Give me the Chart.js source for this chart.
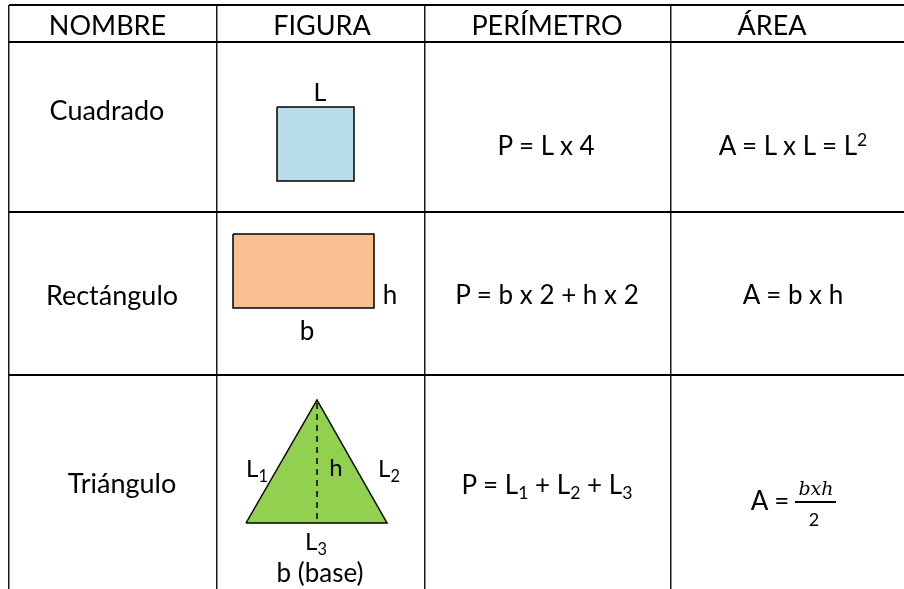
<!DOCTYPE html>
<html lang="es">
<head>
<meta charset="utf-8">
<title>Figuras: perímetro y área</title>
<script src="https://cdn.jsdelivr.net/npm/chart.js@4.4.1/dist/chart.umd.min.js"></script>
<style>
  html, body { margin: 0; padding: 0; background: #fff; }
  #wrap { position: relative; width: 904px; height: 589px; overflow: hidden; font-family: Lato, 'Open Sans', sans-serif; color: #000; }
  #chart { position: absolute; left: 0; top: 0; }
  .lbl { position: absolute; transform: translate(-50%, -50%); line-height: 1; white-space: nowrap; }
  .sub { position: relative; top: 0.28em; font-size: 0.68em; }
  .sup { position: relative; top: -0.5em; font-size: 0.68em; }
  .math { font-family: 'DejaVu Serif', 'Liberation Serif', serif; font-style: italic; }
</style>
</head>
<body>
<div id="wrap">
  <canvas id="chart" width="904" height="589"></canvas>
</div>
<script>
// texts of the table
var headers = ['NOMBRE', 'FIGURA', 'PERÍMETRO', 'ÁREA'];
var names = ['Cuadrado', 'Rectángulo', 'Triángulo'];
var perimeters = ['P = L x 4', 'P = b x 2 + h x 2', 'P = L<span class="sub">1</span> + L<span class="sub">2</span> + L<span class="sub">3</span>'];
var areas = ['A = L x L = L<span class="sup">2</span>', 'A = b x h', 'A ='];
var triangleFraction = ['bxh', '2'];
var figureLabels = ['L', 'h', 'b', 'L<span class="sub">1</span>', 'h', 'L<span class="sub">2</span>', 'L<span class="sub">3</span>', 'b (base)'];

// table borders (grid ticks)
var colEdges = [9, 217, 425, 671];
var rowEdges = [5, 42, 212, 375];

// figures, in table units
var squareX = [277, 354, 354, 277, 277];
var squareY = [107, 107, 181, 181, 107];
var rectX = [233, 374, 374, 233, 233];
var rectY = [234, 234, 308, 308, 234];
var triX = [246, 317, 387, 246];
var triY = [523, 400, 523, 523];
var heightX = [317, 317];
var heightY = [403, 523];
var fracBarX = [795, 836];
var fracBarY = [502, 502];

function pts(xs, ys) {
  return xs.map(function(x, i) { return { x: x, y: ys[i] }; });
}

function shape(xs, ys, color) {
  return {
    data: pts(xs, ys), showLine: true, pointRadius: 0, tension: 0,
    borderColor: '#000', borderWidth: 1.5, backgroundColor: color, fill: 'shape', order: 1
  };
}

new Chart(document.getElementById('chart').getContext('2d'), {
  type: 'scatter',
  data: {
    datasets: [
      { data: pts(heightX, heightY), showLine: true, pointRadius: 0, borderColor: '#000', borderWidth: 1.5, borderDash: [6, 5], fill: false, order: 0 },
      { data: pts(fracBarX, fracBarY), showLine: true, pointRadius: 0, borderColor: '#000', borderWidth: 2, fill: false, order: 0 },
      shape(squareX, squareY, '#b7dde8'),
      shape(rectX, rectY, '#f8c090'),
      shape(triX, triY, '#92d050'),
    ]
  },
  options: {
    responsive: false,
    animation: false,
    devicePixelRatio: 1,
    events: [],
    layout: { padding: { left: 9, top: 5, right: 0, bottom: 0 } },
    plugins: { legend: { display: false }, tooltip: { enabled: false } },
    scales: {
      x: {
        type: 'linear', min: 9, max: 904,
        ticks: { display: false }, border: { display: false },
        grid: { color: '#1a1a1a', lineWidth: 1.5, drawTicks: false },
        afterBuildTicks: function(s) { s.ticks = colEdges.map(function(v) { return { value: v }; }); },
        afterFit: function(s) { s.height = 0; }
      },
      y: {
        type: 'linear', min: 5, max: 589, reverse: true,
        ticks: { display: false }, border: { display: false },
        grid: { color: '#000', lineWidth: 2, drawTicks: false },
        afterBuildTicks: function(s) { s.ticks = rowEdges.map(function(v) { return { value: v }; }); },
        afterFit: function(s) { s.width = 0; }
      }
    }
  }
});

// text overlay
var wrap = document.getElementById('wrap');
function place(html, cx, cy, size, cls) {
  var d = document.createElement('div');
  d.className = 'lbl' + (cls ? ' ' + cls : '');
  d.innerHTML = html;
  d.style.left = cx + 'px';
  d.style.top = cy + 'px';
  d.style.fontSize = size + 'px';
  wrap.appendChild(d);
}

var headerPos = [[107.5, 24], [322, 24], [547, 24], [772, 24]];
headers.forEach(function(t, i) { place(t, headerPos[i][0], headerPos[i][1], 27); });

var namePos = [[107, 109], [112, 294], [122, 482]];
names.forEach(function(t, i) { place(t, namePos[i][0], namePos[i][1], 27); });

var perimPos = [[546, 145], [547, 294], [547, 484]];
perimeters.forEach(function(t, i) { place(t, perimPos[i][0], perimPos[i][1], 26); });

var areaPos = [[793, 145], [793, 294], [770, 500]];
areas.forEach(function(t, i) { place(t, areaPos[i][0], areaPos[i][1], 26); });

// fraction b·h / 2 (bar drawn by the chart)
place(triangleFraction[0], 816, 488, 19, 'math');
place(triangleFraction[1], 814, 519, 18);

var figPos = [[320, 91, 25], [390, 294, 26], [307, 330, 26], [257, 468, 24], [336, 467, 24], [389, 468, 24], [316, 541, 24], [320, 572, 26]];
figureLabels.forEach(function(t, i) { place(t, figPos[i][0], figPos[i][1], figPos[i][2]); });
</script>
</body>
</html>
